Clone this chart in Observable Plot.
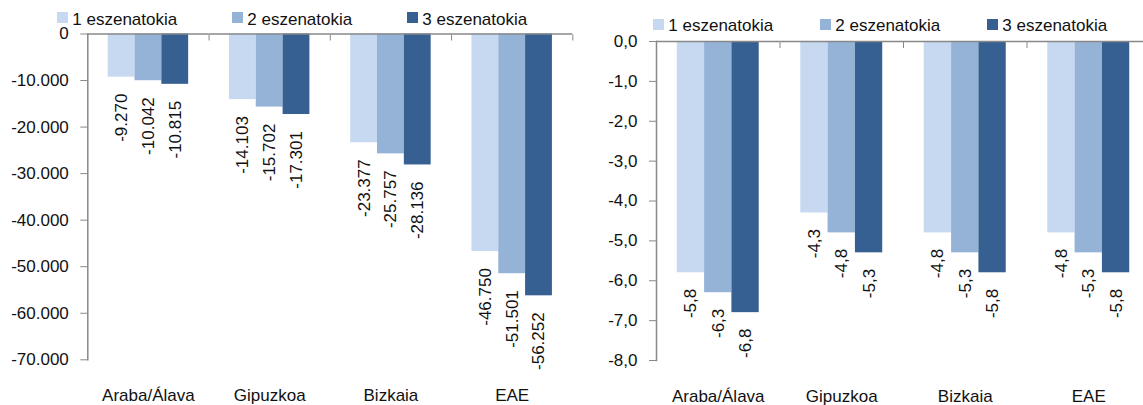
<!DOCTYPE html>
<html>
<head>
<meta charset="utf-8">
<script src="https://cdn.jsdelivr.net/npm/d3@7"></script>
<script src="https://cdn.jsdelivr.net/npm/@observablehq/plot@0.6"></script>
<style>
  html, body { margin: 0; padding: 0; background: #fff; overflow: hidden; }
  #root { position: relative; width: 1143px; height: 405px; overflow: hidden; background: #fff;
          font-family: 'Liberation Sans', Arial, sans-serif; color: #111; }
  .panel { position: absolute; top: 0; }
  .legend { position: relative; z-index: 1; }
  .legend-row { position: absolute; display: flex; font-size: 17px; line-height: 17px; white-space: nowrap; }
  .legend-item { display: flex; align-items: center; }
  .swatch { width: 10.5px; height: 10.5px; margin-right: 4.5px; position: relative; top: -1.5px; }
  svg { display: block; overflow: visible; }
</style>
</head>
<body>
<div id="root"></div>
<script>
// ---- data ----
const categories = ["Araba/Álava", "Gipuzkoa", "Bizkaia", "EAE"];
const series = ["1 eszenatokia", "2 eszenatokia", "3 eszenatokia"];
const colors = ["#C6D9F1", "#95B3D7", "#376092"];

const absScenario1 = [-9270, -14103, -23377, -46750];
const absScenario2 = [-10042, -15702, -25757, -51501];
const absScenario3 = [-10815, -17301, -28136, -56252];

const pctScenario1 = [-5.8, -4.3, -4.8, -4.8];
const pctScenario2 = [-6.3, -4.8, -5.3, -5.3];
const pctScenario3 = [-6.8, -5.3, -5.8, -5.8];

const absTicks = [0, -10000, -20000, -30000, -40000, -50000, -60000, -70000];
const absTickLabels = ["0", "-10.000", "-20.000", "-30.000", "-40.000", "-50.000", "-60.000", "-70.000"];
const pctTicks = [0, -1, -2, -3, -4, -5, -6, -7, -8];
const pctTickLabels = ["0,0", "-1,0", "-2,0", "-3,0", "-4,0", "-5,0", "-6,0", "-7,0", "-8,0"];

// ---- helpers ----
const locale = d3.formatLocale({decimal: ",", thousands: ".", grouping: [3], currency: ["", " €"], minus: "-"});
const fmtAbs = locale.format(",d");
const fmtPct = locale.format(".1f");

function rows(seriesValues) {
  return categories.flatMap((c, i) => series.map((s, j) => ({cat: c, series: s, value: seriesValues[j][i]})));
}

const axisGray = "#888888";
const fontFamily = "'Liberation Sans', Arial, sans-serif";

function makePanel(cfg) {
  const data = rows(cfg.values);
  const step = (cfg.width - cfg.ml - cfg.mr) / categories.length;
  return Plot.plot({
    width: cfg.width,
    height: cfg.height,
    marginLeft: cfg.ml,
    marginRight: cfg.mr,
    marginTop: cfg.mt,
    marginBottom: cfg.mb,
    style: {fontFamily, fontSize: "17px", color: "#111", background: "transparent", overflow: "visible"},
    fx: {domain: categories, padding: 0, round: false, axis: null},
    x: {domain: series, paddingInner: 0, paddingOuter: 0.76, round: false, axis: null},
    y: {domain: cfg.yDomain, axis: null},
    color: {domain: series, range: colors},
    marks: [
      Plot.barY(data, {fx: "cat", x: "series", y: "value", fill: "series"}),
      Plot.ruleY([0], {stroke: axisGray, strokeWidth: 1.5}),
      Plot.frame({anchor: "left", facet: "super", stroke: axisGray, strokeWidth: 1.5}),
      Plot.axisY(cfg.ticks, {
        anchor: "left", tickSize: 7, tickPadding: 12, stroke: axisGray, label: null,
        tickFormat: d => cfg.tickLabels[cfg.ticks.indexOf(d)]
      }),
      Plot.axisFx({anchor: "top", tickSize: 6, dy: 6, dx: step / 2, stroke: axisGray, label: null, tickFormat: () => ""}),
      Plot.axisFx({anchor: "bottom", tickSize: 0, tickPadding: cfg.labelPad, label: null}),
      Plot.text(data, {
        fx: "cat", x: "series", y: "value", text: d => cfg.fmt(d.value),
        rotate: -90, textAnchor: "end", dy: cfg.valueGap, fontSize: 17, fill: "#111"
      })
    ]
  });
}

function makeLegend(height, rowTop, padLeft, itemWidth) {
  const lg = document.createElement("div");
  lg.className = "legend";
  lg.style.height = height + "px";
  const row = document.createElement("div");
  row.className = "legend-row";
  row.style.top = rowTop + "px";
  row.style.left = padLeft + "px";
  series.forEach((s, i) => {
    const it = document.createElement("div");
    it.className = "legend-item";
    it.style.width = itemWidth + "px";
    const sw = document.createElement("span");
    sw.className = "swatch";
    sw.style.background = colors[i];
    const tx = document.createElement("span");
    tx.textContent = s;
    it.appendChild(sw);
    it.appendChild(tx);
    row.appendChild(it);
  });
  lg.appendChild(row);
  return lg;
}

const root = document.getElementById("root");

// Left panel: absolute numbers
const left = document.createElement("div");
left.className = "panel";
left.style.left = "0px";
left.style.width = "590px";
left.appendChild(makeLegend(12, 10.6, 57.3, 175));
left.appendChild(makePanel({
  values: [absScenario1, absScenario2, absScenario3],
  yDomain: [-70000, 0], ticks: absTicks, tickLabels: absTickLabels, fmt: fmtAbs,
  width: 590, height: 393, ml: 87.3, mr: 17.7, mt: 21.5, mb: 45.7, labelPad: 29, valueGap: 16.5
}));
root.appendChild(left);

// Right panel: percentages
const right = document.createElement("div");
right.className = "panel";
right.style.left = "590px";
right.style.width = "560px";
right.appendChild(makeLegend(14, 17.3, 63.3, 167));
right.appendChild(makePanel({
  values: [pctScenario1, pctScenario2, pctScenario3],
  yDomain: [-8, 0], ticks: pctTicks, tickLabels: pctTickLabels, fmt: fmtPct,
  width: 560, height: 391, ml: 66, mr: 0, mt: 27, mb: 45, labelPad: 29, valueGap: 16
}));
root.appendChild(right);
</script>
</body>
</html>
